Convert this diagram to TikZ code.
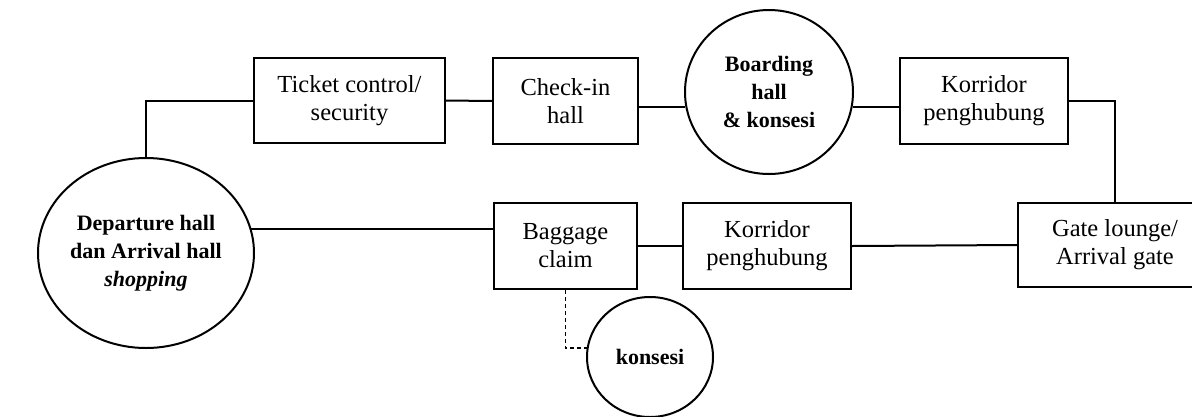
\documentclass[tikz,border=0pt]{standalone}
\usepackage{fontspec}
\setmainfont{Liberation Serif}
\usetikzlibrary{shapes.geometric}
\begin{document}
\begin{tikzpicture}[x=1pt,y=-1pt,
  link/.style={line width=2pt},
  dotlink/.style={line width=1.3pt,dash pattern=on 4pt off 3pt},
  room/.style={draw,line width=2pt,rectangle,align=center,inner sep=0pt,
    font=\fontsize{24.5}{28}\selectfont},
  hall/.style={draw,line width=2pt,ellipse,align=center,inner sep=0pt,
    font=\fontsize{22}{28}\selectfont\bfseries},
]
\useasboundingbox (0,0) rectangle (1192,416);

% halls (round) and rooms (rectangular)
\node[hall,minimum width=216pt,minimum height=190pt] (dep) at (146,253)
  {Departure hall\\dan Arrival hall\\\textit{shopping}};
\node[room,minimum width=191pt,minimum height=85pt] (tick) at (349.5,100.5)
  {Ticket control/\\security};
\node[room,minimum width=145pt,minimum height=86pt] (chk) at (565.5,101)
  {Check-in\\hall};
\node[hall,minimum width=168pt,minimum height=164pt] (board) at (769,92)
  {Boarding\\hall\\\& konsesi};
\node[room,minimum width=168pt,minimum height=86pt] (kor1) at (984,101)
  {Korridor\\penghubung};
\node[room,minimum width=143pt,minimum height=86pt] (bag) at (565.5,246)
  {Baggage\\claim};
\node[room,minimum width=168pt,minimum height=86pt] (kor2) at (767,246)
  {Korridor\\penghubung};
\node[room,minimum width=194pt,minimum height=84pt] (gate) at (1115,245)
  {Gate lounge/\\Arrival gate};
\node[hall,minimum width=126pt,minimum height=120pt] (kon) at (650,357)
  {konsesi};

% departure flow
\draw[link] (dep.north) |- (tick.west);
\draw[link] (tick.east) -- (chk.west);
\draw[link] (board.190) -- (board.190 -| chk.east);
\draw[link] (board.-10) -- (board.-10 -| kor1.west);
\draw[link] (kor1.east) -| (gate.north);

% arrival flow
\draw[link] (gate.west) -- (kor2.east);
\draw[link] (kor2.west) -- (bag.east);
\draw[link] (bag.west |- dep.13) -- (dep.13);
\draw[dotlink] (bag.south) |- (kon.172);
\end{tikzpicture}
\end{document}
